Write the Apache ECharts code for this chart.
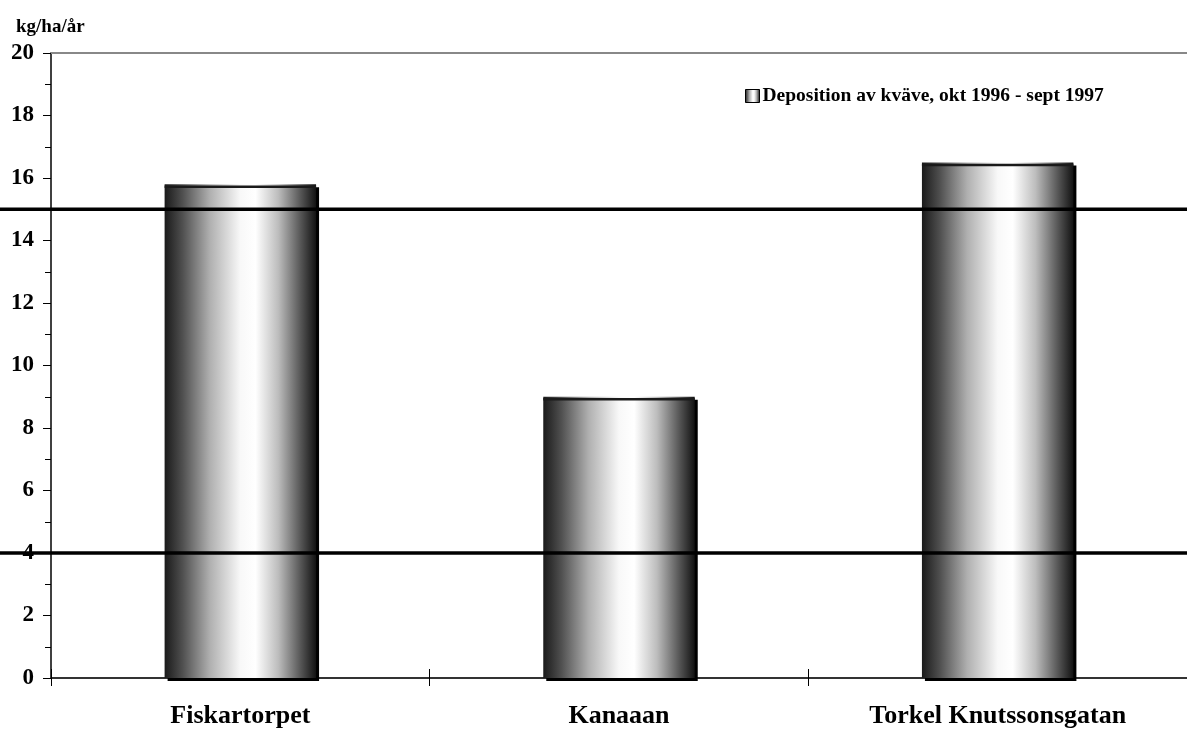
<!DOCTYPE html>
<html>
<head>
<meta charset="utf-8">
<script src="https://cdn.jsdelivr.net/npm/echarts@6/dist/echarts.min.js"></script>
<style>
  html, body { margin: 0; padding: 0; background: #fff; }
  #chart { width: 1187px; height: 729px; }
</style>
</head>
<body>
<div id="chart"></div>
<script>
// Kvävedeposition per mätplats
const categories = ['Fiskartorpet', 'Kanaaan', 'Torkel Knutssonsgatan'];
const deposition = [15.8, 9.0, 16.5];
const seriesName = 'Deposition av kväve, okt 1996 - sept 1997';
const unitLabel = 'kg/ha/år';
// Referensnivåer (kritisk belastning)
const referenceLevels = [15, 4];

const FONT = '"Liberation Serif", "Times New Roman", serif';

const chart = echarts.init(document.getElementById('chart'), null, { renderer: 'canvas' });

// Cylinderliknande gråskaleton över stapelns bredd
const barGradient = new echarts.graphic.LinearGradient(0, 0, 1, 0, [
  { offset: 0.00, color: '#1a1a1a' },
  { offset: 0.12, color: '#505050' },
  { offset: 0.30, color: '#b0b0b0' },
  { offset: 0.50, color: '#f8f8f8' },
  { offset: 0.60, color: '#ffffff' },
  { offset: 0.75, color: '#bdbdbd' },
  { offset: 0.90, color: '#555555' },
  { offset: 1.00, color: '#121212' }
]);

const option = {
  animation: false,
  backgroundColor: '#ffffff',
  title: {
    text: unitLabel,
    left: 11,
    top: 13,
    textStyle: { fontFamily: FONT, fontSize: 19, fontWeight: 'bold', color: '#000' }
  },
  legend: {
    data: [seriesName],
    left: 740,
    top: 81,
    itemWidth: 14,
    itemHeight: 13,
    itemGap: 4,
    icon: 'rect',
    textStyle: { fontFamily: FONT, fontSize: 19.5, fontWeight: 'bold', color: '#000', padding: [0, 0, 0, -2] },
    itemStyle: { borderColor: '#000', borderWidth: 1 }
  },
  grid: { left: 51, top: 53, width: 1140, height: 625, containLabel: false },
  xAxis: [
    {
      type: 'category',
      data: categories,
      position: 'bottom',
      axisLine: { show: true, lineStyle: { color: '#333', width: 2 } },
      axisTick: { show: true, length: 8, alignWithLabel: false, lineStyle: { color: '#000', width: 1 } },
      axisLabel: { margin: 25, fontFamily: FONT, fontSize: 26, fontWeight: 'bold', color: '#000' },
      splitLine: { show: false }
    },
    {
      // inre tickmarkeringar vid kategorigränserna
      type: 'category',
      data: categories,
      position: 'bottom',
      axisLine: { show: false },
      axisTick: { show: true, inside: true, length: 9, lineStyle: { color: '#000', width: 1 } },
      axisLabel: { show: false },
      splitLine: { show: false }
    },
    {
      // övre ramlinje
      type: 'category',
      data: categories,
      position: 'top',
      axisLine: { show: true, lineStyle: { color: '#888', width: 2 } },
      axisTick: { show: false },
      axisLabel: { show: false },
      splitLine: { show: false }
    }
  ],
  yAxis: {
    type: 'value',
    min: 0,
    max: 20,
    interval: 2,
    axisLine: { show: true, lineStyle: { color: '#000', width: 1.5 } },
    axisTick: { show: true, length: 8, lineStyle: { color: '#000', width: 1 } },
    minorTick: { show: true, splitNumber: 2, length: 6, lineStyle: { color: '#000', width: 1 } },
    axisLabel: { margin: 17, fontFamily: FONT, fontSize: 23, fontWeight: 'bold', color: '#000' },
    splitLine: { show: false }
  },
  series: [
    {
      name: seriesName,
      type: 'bar',
      data: deposition,
      barWidth: '40%',
      itemStyle: {
        color: barGradient,
        shadowColor: '#000',
        shadowBlur: 0,
        shadowOffsetX: 3,
        shadowOffsetY: 3
      }
    },
    {
      // mörk kant överst på varje stapel
      name: 'kant',
      type: 'pictorialBar',
      data: deposition,
      barWidth: '40%',
      symbol: 'rect',
      symbolSize: ['100%', 2.5],
      symbolPosition: 'end',
      symbolOffset: [0, 1.25],
      itemStyle: { color: '#1a1a1a' },
      z: 3
    }
  ]
};

chart.setOption(option);

// Tjocka referenslinjer över hela bredden, placerade via y-axelns skala
const lines = referenceLevels.map(function (v) {
  const y = chart.convertToPixel({ yAxisIndex: 0 }, v);
  return {
    type: 'line',
    shape: { x1: 0, y1: y, x2: chart.getWidth(), y2: y },
    style: { stroke: '#000', lineWidth: 3.5 },
    z: 100
  };
});
chart.setOption({ graphic: lines });
</script>
</body>
</html>
